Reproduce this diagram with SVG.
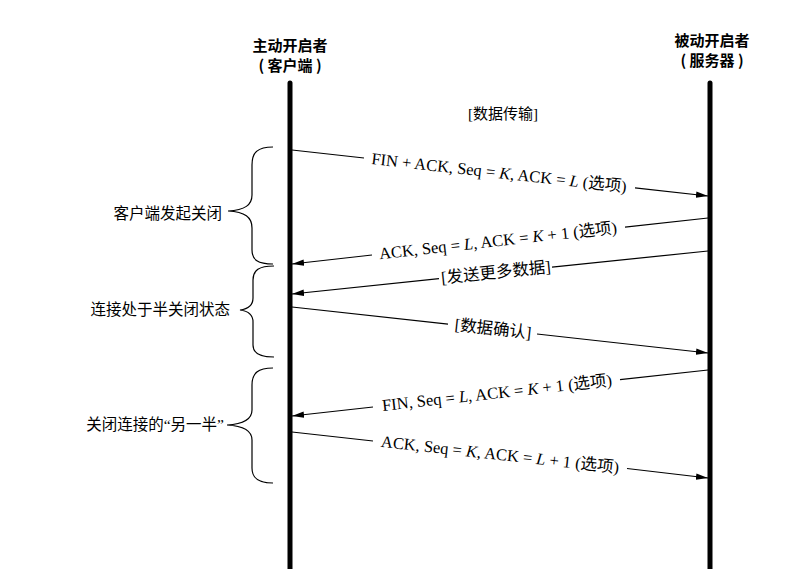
<svg xmlns="http://www.w3.org/2000/svg" width="785" height="569" viewBox="0 0 785 569">
<defs>
<marker id="ah" markerWidth="12" markerHeight="8" refX="12" refY="4" orient="auto" markerUnits="userSpaceOnUse">
<path d="M0,0.8 L12,4 L0,7.2 Z" fill="#000"/>
</marker>
<style>
.hdr{font-family:"Noto Sans CJK SC","Liberation Sans",sans-serif;font-weight:bold;font-size:15px;fill:#000;text-anchor:middle}
.lbl{font-family:"Liberation Serif","Noto Sans CJK SC",serif;font-size:16.5px;fill:#000;text-anchor:middle}
.side{font-family:"Liberation Serif","Noto Sans CJK SC",serif;font-size:15.5px;fill:#000;text-anchor:end}
.life{stroke:#000;stroke-width:5;stroke-linecap:round;fill:none}
.msg{stroke:#000;stroke-width:1.2;fill:none}
.brace{stroke:#000;stroke-width:1.2;fill:none}
.it{font-style:italic}
</style>
</defs>
<rect width="785" height="569" fill="#fff"/>

<g id="client">
<text class="hdr" x="290" y="51">主动开启者</text>
<text class="hdr" x="290" y="71">(  客户端  )</text>
<line class="life" x1="290" y1="83" x2="290" y2="575"/>
</g>
<g id="server">
<text class="hdr" x="712" y="46">被动开启者</text>
<text class="hdr" x="712" y="66">(  服务器  )</text>
<line class="life" x1="710" y1="83" x2="710" y2="575"/>
</g>

<g id="transfer">
<text class="lbl" x="503" y="119" style="font-size:15px">[数据传输]</text>
</g>

<g id="connectors">
<line class="msg" x1="292" y1="150" x2="364" y2="158"/>
<line class="msg" x1="635" y1="187.8" x2="708" y2="196" marker-end="url(#ah)"/>
<line class="msg" x1="708" y1="218" x2="625" y2="227.2"/>
<line class="msg" x1="372" y1="255" x2="292" y2="264" marker-end="url(#ah)"/>
<line class="msg" x1="708" y1="251" x2="552" y2="267.1"/>
<line class="msg" x1="439" y1="278.7" x2="292" y2="294" marker-end="url(#ah)"/>
<line class="msg" x1="292" y1="307" x2="448" y2="324.2"/>
<line class="msg" x1="537" y1="334" x2="708" y2="353" marker-end="url(#ah)"/>
<line class="msg" x1="708" y1="370" x2="620" y2="379.7"/>
<line class="msg" x1="373" y1="407" x2="292" y2="416" marker-end="url(#ah)"/>
<line class="msg" x1="292" y1="432" x2="373" y2="441"/>
<line class="msg" x1="627" y1="468.5" x2="708" y2="478" marker-end="url(#ah)"/>
</g>

<g id="m1" transform="translate(499,173.2) rotate(6.3)">
<text class="lbl" x="0" y="5">FIN + ACK, Seq = <tspan class="it">K</tspan>, ACK = <tspan class="it">L</tspan> (选项)</text>
</g>
<g id="m2" transform="translate(498,241.2) rotate(-6.3)">
<text class="lbl" x="0" y="5">ACK, Seq = <tspan class="it">L</tspan>, ACK = <tspan class="it">K</tspan> + 1 (选项)</text>
</g>
<g id="m3" transform="translate(496,272.9) rotate(-5.9)">
<text class="lbl" x="0" y="5">[发送更多数据]</text>
</g>
<g id="m4" transform="translate(493,329.3) rotate(6.3)">
<text class="lbl" x="0" y="5">[数据确认]</text>
</g>
<g id="m5" transform="translate(497,393.3) rotate(-6.3)">
<text class="lbl" x="0" y="5">FIN, Seq = <tspan class="it">L</tspan>, ACK = <tspan class="it">K</tspan> + 1 (选项)</text>
</g>
<g id="m6" transform="translate(500,455) rotate(6.3)">
<text class="lbl" x="0" y="5">ACK, Seq = <tspan class="it">K</tspan>, ACK = <tspan class="it">L</tspan> + 1 (选项)</text>
</g>

<g id="phase1">
<path class="brace" d="M273,147 C258,147 252,152 252,165 L252,195 C252,205 245,210 228,211 C245,212 252,217 252,228 L252,250 C252,260 258,264 273,264"/>
<text class="side" x="222" y="219">客户端发起关闭</text>
</g>
<g id="phase2">
<path class="brace" d="M274,266 C259,266 253,270 253,280 L253,298 C253,305 248,309 240,310 C248,311 253,315 253,322 L253,345 C253,353 259,357 274,357"/>
<text class="side" x="230" y="315">连接处于半关闭状态</text>
</g>
<g id="phase3">
<path class="brace" d="M273,368 C258,368 252,373 252,385 L252,410 C252,419 245,424 227,425 C245,426 252,431 252,440 L252,468 C252,478 258,483 273,483"/>
<text class="side" x="224" y="430">关闭连接的“另一半”</text>
</g>
</svg>
